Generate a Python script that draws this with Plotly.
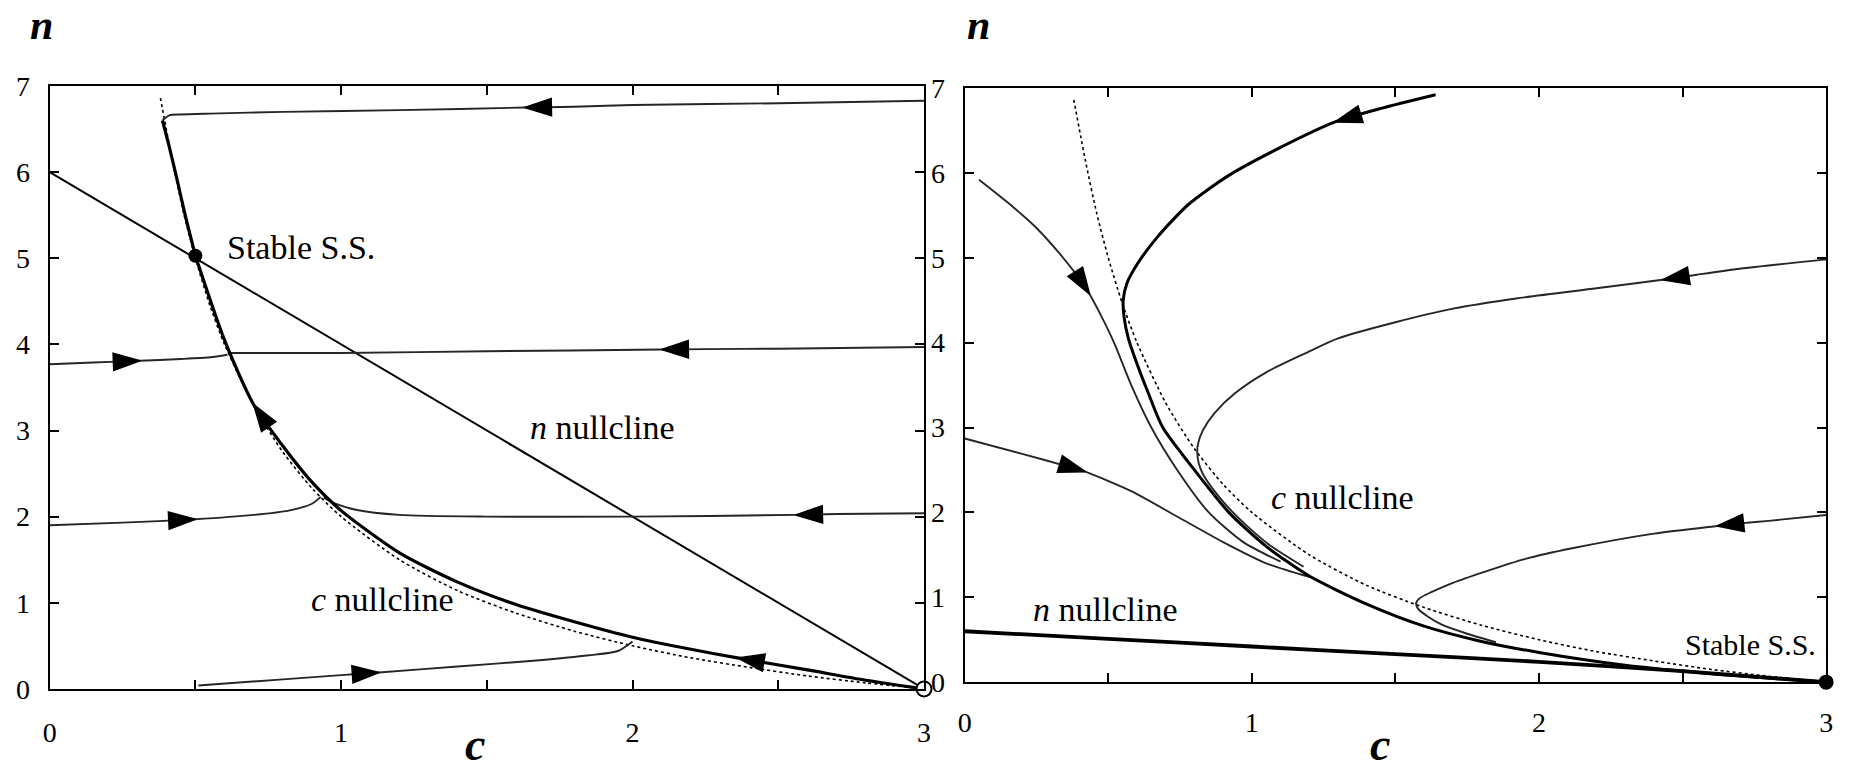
import plotly.graph_objects as go

W, H = 1851, 774
FONT = "Liberation Serif, Times New Roman, Times, serif"

# ---------------- shared: c nullcline (dotted) ----------------
cnull_c = [0.38, 0.42, 0.46, 0.50, 0.55, 0.60, 0.70, 0.80, 0.90, 1.00, 1.20, 1.40,
           1.60, 1.80, 2.00, 2.20, 2.40, 2.60, 2.80, 3.00]
cnull_n = [6.86, 6.15, 5.52, 5.00, 4.45, 4.00, 3.29, 2.75, 2.33, 2.00, 1.50, 1.14,
           0.88, 0.67, 0.50, 0.36, 0.25, 0.15, 0.07, 0.00]

# ---------------- left panel ----------------
L_nnull_c = [0.0, 3.0]
L_nnull_n = [6.0, 0.0]

# stable manifold into the steady state (travel direction: from (3,0) upward)
L_sep_c = [3.00, 2.80, 2.60, 2.36, 2.20, 2.00, 1.80, 1.60, 1.40, 1.20, 1.00, 0.90,
           0.80, 0.70, 0.60, 0.50]
L_sep_n = [0.00, 0.10, 0.22, 0.36, 0.46, 0.60, 0.78, 0.98, 1.24, 1.58, 2.07, 2.40,
           2.82, 3.30, 4.05, 5.03]
L_sep_arrows = [3, 13]

# upper branch coming down to the steady state
L_drop_c = [0.387, 0.41, 0.436, 0.465, 0.50]
L_drop_n = [6.60, 6.30, 5.93, 5.50, 5.03]

L_top_c = [3.00, 2.50, 2.00, 1.80, 1.63, 1.20, 0.80, 0.55, 0.45, 0.41, 0.387]
L_top_n = [6.83, 6.80, 6.78, 6.76, 6.75, 6.72, 6.70, 6.68, 6.67, 6.66, 6.60]
L_top_arrows = [4]

L_mid_r_c = [3.00, 2.50, 2.25, 2.10, 1.50, 1.00, 0.70, 0.62]
L_mid_r_n = [3.97, 3.95, 3.945, 3.94, 3.92, 3.90, 3.90, 3.90]
L_mid_r_arrows = [3]

L_mid_l_c = [0.00, 0.15, 0.31, 0.45, 0.55, 0.61]
L_mid_l_n = [3.77, 3.79, 3.81, 3.83, 3.85, 3.88]
L_mid_l_arrows = [2]

L_low_r_c = [3.00, 2.70, 2.56, 2.00, 1.50, 1.20, 1.05, 0.98, 0.94]
L_low_r_n = [2.04, 2.03, 2.02, 2.00, 2.00, 2.02, 2.08, 2.15, 2.22]
L_low_r_arrows = [2]

L_low_l_c = [0.00, 0.25, 0.50, 0.70, 0.82, 0.90, 0.93]
L_low_l_n = [1.90, 1.93, 1.97, 2.02, 2.07, 2.15, 2.23]
L_low_l_arrows = [2]

L_bot_c = [0.51, 0.80, 1.00, 1.13, 1.40, 1.67, 1.85, 1.95, 2.00]
L_bot_n = [0.04, 0.11, 0.16, 0.19, 0.26, 0.33, 0.39, 0.44, 0.55]
L_bot_arrows = [3]

L_stable = (0.50, 5.03)
L_unstable = (3.0, 0.0)

# ---------------- right panel ----------------
R_nnull_c = [0.0, 0.5, 1.0, 1.5, 2.0, 2.5, 3.0]
R_nnull_n = [0.60, 0.51, 0.42, 0.33, 0.24, 0.13, 0.00]

R_main_c = [1.64, 1.45, 1.29, 1.10, 0.92, 0.78, 0.67, 0.60, 0.565, 0.552, 0.555, 0.57,
            0.60, 0.64, 0.69, 0.80, 0.92, 1.05, 1.20, 1.40, 1.60, 1.80, 2.00, 2.30,
            2.60, 3.00]
R_main_n = [6.92, 6.76, 6.60, 6.30, 5.97, 5.63, 5.24, 4.92, 4.70, 4.50, 4.30, 4.05,
            3.75, 3.40, 3.00, 2.50, 2.00, 1.60, 1.25, 0.92, 0.66, 0.48, 0.35, 0.20,
            0.10, 0.00]
R_main_arrows = [2]

R_a_c = [0.05, 0.15, 0.25, 0.33, 0.40, 0.435, 0.47, 0.52, 0.58, 0.65, 0.74, 0.85, 0.97, 1.10]
R_a_n = [5.92, 5.65, 5.35, 5.05, 4.75, 4.57, 4.35, 4.00, 3.50, 3.00, 2.50, 2.00, 1.65, 1.42]
R_a_arrows = [5]

R_b_c = [0.00, 0.20, 0.36, 0.42, 0.58, 0.735, 0.90, 1.05, 1.20]
R_b_n = [2.87, 2.69, 2.54, 2.48, 2.25, 1.96, 1.65, 1.40, 1.24]
R_b_arrows = [3]

R_c_c = [3.00, 2.70, 2.55, 2.43, 2.20, 1.92, 1.70, 1.50, 1.30, 1.19, 1.05, 0.94, 0.87,
         0.83, 0.812, 0.81, 0.815, 0.83, 0.87, 0.92, 0.98, 1.06, 1.18]
R_c_n = [4.98, 4.87, 4.80, 4.74, 4.64, 4.52, 4.40, 4.24, 4.05, 3.88, 3.65, 3.40, 3.17,
         2.97, 2.80, 2.70, 2.58, 2.45, 2.25, 2.05, 1.85, 1.62, 1.36]
R_c_arrows = [3]

R_d_c = [3.00, 2.80, 2.70, 2.62, 2.40, 2.12, 1.95, 1.81, 1.70, 1.625, 1.585, 1.572,
         1.58, 1.61, 1.66, 1.75, 1.85]
R_d_n = [1.97, 1.90, 1.87, 1.84, 1.75, 1.58, 1.45, 1.30, 1.17, 1.06, 0.99, 0.93,
         0.86, 0.78, 0.68, 0.57, 0.47]
R_d_arrows = [3]

R_stable = (3.0, 0.0)

# ---------------- ticks ----------------
tick_vals_c = [0, 0.5, 1, 1.5, 2, 2.5, 3]
tick_text_c = ["0", "", "1", "", "2", "", "3"]
tick_vals_n = [0, 1, 2, 3, 4, 5, 6, 7]
tick_text_n = ["0", "1", "2", "3", "4", "5", "6", "7"]

fig = go.Figure()


def curve(ax, c, n, width, color="black", dash="solid", arrows=None, asize=28):
    xa, ya = ("x", "y") if ax == 1 else ("x2", "y2")
    fig.add_trace(go.Scatter(
        x=c, y=n, xaxis=xa, yaxis=ya, mode="lines",
        line=dict(color=color, width=width, dash=dash, shape="spline", smoothing=0.7),
        hoverinfo="skip", showlegend=False))
    # arrowheads: each drawn at a curve sample, oriented along the preceding segment
    for i in (arrows or []):
        fig.add_trace(go.Scatter(
            x=[c[i - 1], c[i]], y=[n[i - 1], n[i]], xaxis=xa, yaxis=ya,
            mode="markers", opacity=1,
            marker=dict(symbol="arrow", size=[0, asize], angleref="previous",
                        color="#000000", opacity=1,
                        line=dict(width=1.5, color="#000000")),
            hoverinfo="skip", showlegend=False))


def point(ax, p, fill, size):
    xa, ya = ("x", "y") if ax == 1 else ("x2", "y2")
    fig.add_trace(go.Scatter(
        x=[p[0]], y=[p[1]], xaxis=xa, yaxis=ya, mode="markers",
        marker=dict(symbol="circle", size=size, color=fill,
                    line=dict(color="black", width=2)),
        cliponaxis=False, hoverinfo="skip", showlegend=False))


THIN = "#262626"

# left panel
curve(1, cnull_c, cnull_n, 1.6, dash="dot")
curve(1, L_nnull_c, L_nnull_n, 2.0)
curve(1, L_top_c, L_top_n, 1.9, THIN, arrows=L_top_arrows)
curve(1, L_mid_r_c, L_mid_r_n, 1.9, THIN, arrows=L_mid_r_arrows)
curve(1, L_mid_l_c, L_mid_l_n, 1.9, THIN, arrows=L_mid_l_arrows)
curve(1, L_low_r_c, L_low_r_n, 1.9, THIN, arrows=L_low_r_arrows)
curve(1, L_low_l_c, L_low_l_n, 1.9, THIN, arrows=L_low_l_arrows)
curve(1, L_bot_c, L_bot_n, 1.9, THIN, arrows=L_bot_arrows)
curve(1, L_drop_c, L_drop_n, 3.2)
curve(1, L_sep_c, L_sep_n, 3.2, arrows=L_sep_arrows)
point(1, L_stable, "black", 12)
point(1, L_unstable, "white", 15)

# right panel
curve(2, cnull_c, cnull_n, 1.6, dash="dot")
curve(2, R_nnull_c, R_nnull_n, 3.8)
curve(2, R_a_c, R_a_n, 1.9, THIN, arrows=R_a_arrows)
curve(2, R_b_c, R_b_n, 1.9, THIN, arrows=R_b_arrows)
curve(2, R_c_c, R_c_n, 1.9, THIN, arrows=R_c_arrows)
curve(2, R_d_c, R_d_n, 1.9, THIN, arrows=R_d_arrows)
curve(2, R_main_c, R_main_n, 3.0, arrows=R_main_arrows)
point(2, R_stable, "black", 13)


def px_x(v):
    return v / W


def px_y(v):
    return 1 - v / H


tickfont = dict(family=FONT, size=28, color="black")
common_x = dict(range=[0, 3], tickvals=tick_vals_c, ticktext=tick_text_c,
                ticks="inside", ticklen=9, tickwidth=1.5, tickcolor="black",
                showline=True, linecolor="black", linewidth=2, mirror="ticks",
                showgrid=False, zeroline=False, tickfont=tickfont,
                ticklabelstandoff=18, fixedrange=True)
common_y = dict(range=[0, 7], tickvals=tick_vals_n, ticktext=tick_text_n,
                ticks="inside", ticklen=9, tickwidth=1.5, tickcolor="black",
                showline=True, linecolor="black", linewidth=2, mirror="ticks",
                showgrid=False, zeroline=False, tickfont=tickfont,
                ticklabelstandoff=12, fixedrange=True)

fig.update_layout(
    width=W, height=H,
    margin=dict(l=0, r=0, t=0, b=0),
    paper_bgcolor="white", plot_bgcolor="white",
    font=dict(family=FONT, color="black"),
    xaxis=dict(common_x, domain=[px_x(43), px_x(924)], anchor="y"),
    yaxis=dict(common_y, domain=[px_y(702), px_y(74)], anchor="x"),
    xaxis2=dict(common_x, domain=[px_x(965), px_x(1833)], anchor="y2",
                ticklabelstandoff=14),
    yaxis2=dict(common_y, domain=[px_y(695), px_y(76)], anchor="x2"),
)

lab = dict(family=FONT, size=34, color="black")
ann = [
    # left panel labels
    dict(x=0.60, y=5.13, xref="x", yref="y", text="Stable S.S.", xanchor="left", font=lab),
    dict(x=1.64, y=3.03, xref="x", yref="y", text="<i>n</i> nullcline", xanchor="left", font=lab),
    dict(x=0.89, y=1.04, xref="x", yref="y", text="<i>c</i> nullcline", xanchor="left", font=lab),
    # right panel labels
    dict(x=1.06, y=2.18, xref="x2", yref="y2", text="<i>c</i> nullcline", xanchor="left", font=lab),
    dict(x=0.23, y=0.86, xref="x2", yref="y2", text="<i>n</i> nullcline", xanchor="left", font=lab),
    dict(x=2.97, y=0.44, xref="x2", yref="y2", text="Stable S.S.", xanchor="right",
         font=dict(family=FONT, size=30, color="black")),
]
title_n = dict(family=FONT, size=42, color="black", style="italic", weight="bold")
title_c = dict(family=FONT, size=46, color="black", style="italic", weight="bold")
for xp, yp, t, f in [(35, 10, "n", title_n), (979, 10, "n", title_n)]:
    ann.append(dict(x=px_x(xp), y=px_y(yp), xref="paper", yref="paper", text=t,
                    xanchor="center", yanchor="middle", showarrow=False, font=f))
for xp in (472, 1383):
    ann.append(dict(x=px_x(xp), y=0, xref="paper", yref="paper", text="c", yshift=-14,
                    xanchor="center", yanchor="bottom", showarrow=False, font=title_c))
for a in ann:
    a.setdefault("showarrow", False)
    a.setdefault("yanchor", "middle")
fig.update_layout(annotations=ann)

fig.write_html("out.html")
